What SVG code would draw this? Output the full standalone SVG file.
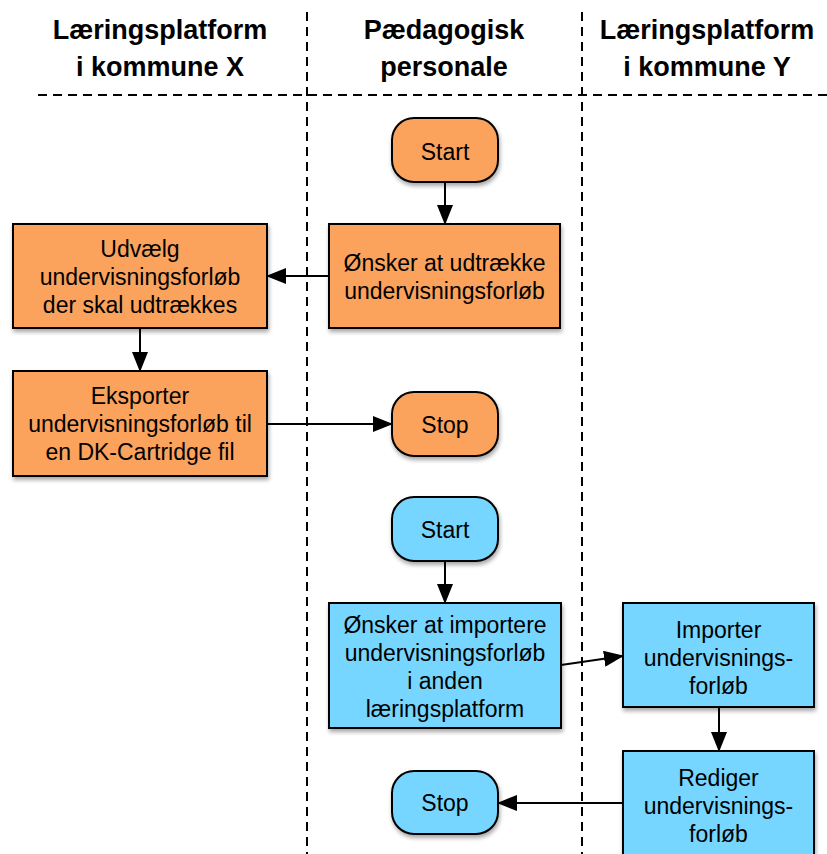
<svg xmlns="http://www.w3.org/2000/svg" width="827" height="854" viewBox="0 0 827 854">
<style>
.hdr{font-family:"Liberation Sans",Arial,sans-serif;font-weight:bold;font-size:27px;text-anchor:middle;fill:#000}
.t{font-family:"Liberation Sans",Arial,sans-serif;font-size:23px;text-anchor:middle;fill:#000}
.lane{stroke:#000;stroke-width:2;stroke-dasharray:9 6;fill:none}
.or{fill:#FBA25C;stroke:#000;stroke-width:2;filter:url(#sh)}
.bl{fill:#76D6FF;stroke:#000;stroke-width:2;filter:url(#sh)}
.c{stroke:#000;stroke-width:2;fill:none;marker-end:url(#ah)}
</style>
<defs>
<filter id="sh" x="-10%" y="-10%" width="130%" height="130%">
<feGaussianBlur in="SourceAlpha" stdDeviation="2"/>
<feOffset dx="1" dy="3" result="b"/>
<feComponentTransfer><feFuncA type="linear" slope="0.35"/></feComponentTransfer>
<feMerge><feMergeNode/><feMergeNode in="SourceGraphic"/></feMerge>
</filter>
<marker id="ah" markerWidth="20" markerHeight="16" refX="19" refY="8" orient="auto" markerUnits="userSpaceOnUse">
<path d="M0,0 L20,8 L0,16 Z" fill="#000"/>
</marker>
</defs>
<rect width="827" height="854" fill="#fff"/>
<g id="lanes">
<line class="lane" x1="307" y1="12" x2="307" y2="854"/>
<line class="lane" x1="582" y1="12" x2="582" y2="854"/>
<line class="lane" x1="38" y1="95" x2="827" y2="95"/>
<text class="hdr" x="160" y="39">Læringsplatform</text>
<text class="hdr" x="160" y="76">i kommune X</text>
<text class="hdr" x="444" y="39">Pædagogisk</text>
<text class="hdr" x="444" y="76">personale</text>
<text class="hdr" x="707" y="39">Læringsplatform</text>
<text class="hdr" x="707" y="76">i kommune Y</text>
</g>
<g id="connectors">
<line class="c" x1="445" y1="182" x2="445" y2="224"/>
<line class="c" x1="329" y1="276" x2="267" y2="276"/>
<line class="c" x1="140" y1="328" x2="140" y2="371"/>
<line class="c" x1="266" y1="424" x2="392" y2="424"/>
<line class="c" x1="445" y1="561" x2="445" y2="603"/>
<line class="c" x1="561" y1="665" x2="623" y2="656"/>
<line class="c" x1="719" y1="707" x2="719" y2="751"/>
<line class="c" x1="623" y1="803" x2="498" y2="803"/>
</g>
<g id="start1">
<rect class="or" x="392" y="118" width="106" height="64" rx="22" ry="22"/>
<text class="t" x="445" y="160">Start</text>
</g>
<g id="onsker-udtraekke">
<rect class="or" x="329" y="224" width="231" height="104"/>
<text class="t" x="444.5" y="271">Ønsker at udtrække</text>
<text class="t" x="444.5" y="299">undervisningsforløb</text>
</g>
<g id="udvaelg">
<rect class="or" x="13" y="224" width="254" height="104"/>
<text class="t" x="140" y="257">Udvælg</text>
<text class="t" x="140" y="285">undervisningsforløb</text>
<text class="t" x="140" y="313">der skal udtrækkes</text>
</g>
<g id="eksporter">
<rect class="or" x="13" y="371" width="254" height="105"/>
<text class="t" x="140" y="404">Eksporter</text>
<text class="t" x="140" y="432">undervisningsforløb til</text>
<text class="t" x="140" y="460">en DK-Cartridge fil</text>
</g>
<g id="stop1">
<rect class="or" x="392" y="392" width="106" height="64" rx="22" ry="22"/>
<text class="t" x="445" y="433">Stop</text>
</g>
<g id="start2">
<rect class="bl" x="392" y="497" width="106" height="64" rx="22" ry="22"/>
<text class="t" x="445" y="538">Start</text>
</g>
<g id="onsker-importere">
<rect class="bl" x="329" y="603" width="232" height="125"/>
<text class="t" x="445" y="633">Ønsker at importere</text>
<text class="t" x="445" y="661">undervisningsforløb</text>
<text class="t" x="445" y="689">i anden</text>
<text class="t" x="445" y="717">læringsplatform</text>
</g>
<g id="importer">
<rect class="bl" x="623" y="603" width="191" height="104"/>
<text class="t" x="718.5" y="638">Importer</text>
<text class="t" x="718.5" y="666">undervisnings-</text>
<text class="t" x="718.5" y="694">forløb</text>
</g>
<g id="rediger">
<rect class="bl" x="623" y="751" width="191" height="120"/>
<text class="t" x="718.5" y="786">Rediger</text>
<text class="t" x="718.5" y="814">undervisnings-</text>
<text class="t" x="718.5" y="842">forløb</text>
</g>
<g id="stop2">
<rect class="bl" x="392" y="771" width="106" height="63" rx="22" ry="22"/>
<text class="t" x="445" y="811">Stop</text>
</g>
</svg>
